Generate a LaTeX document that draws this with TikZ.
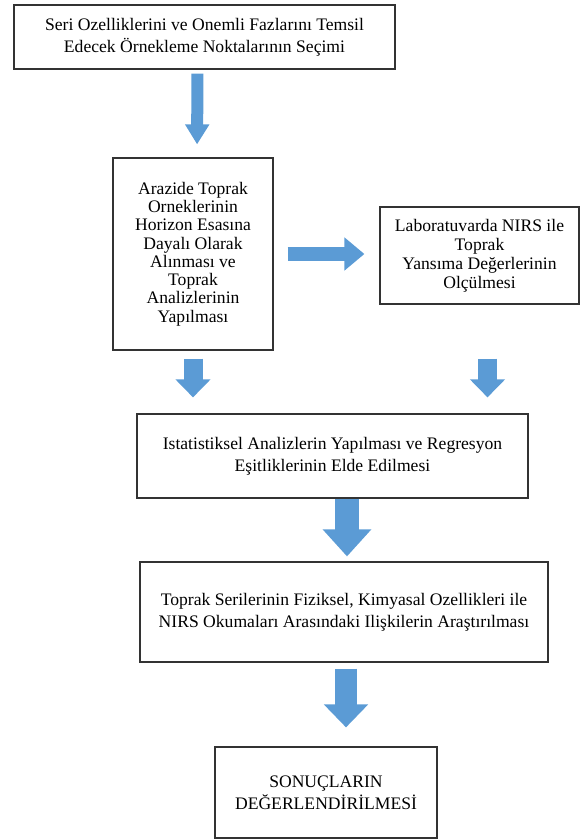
\documentclass[tikz,border=0pt]{standalone}
\usepackage{fontspec}
\setmainfont{Liberation Serif}
\usepackage{tikz}
\usetikzlibrary{arrows.meta,positioning}
\definecolor{okmavi}{HTML}{5B9BD5}
\definecolor{kenar}{HTML}{333333}
\tikzstyle{kutu} = [draw=kenar, line width=1.2pt, rectangle, align=center, inner sep=0pt, font=\fontsize{17.6}{22}\selectfont]
\tikzset{blokok/.style n args={3}{draw=okmavi, line width=#1, -{Triangle[width=#2, length=#3]}}}

\begin{document}
\begin{tikzpicture}[x=1pt, y=-1pt]
	\useasboundingbox (0,0) rectangle (580,840);
	% kutular
	\node [kutu, minimum width=381pt, minimum height=64pt] (secim) at (204.5,37)
		{Seri Ozelliklerini ve Onemli Fazlarını Temsil\\Edecek Örnekleme Noktalarının Seçimi};
	\node [kutu, minimum width=160pt, minimum height=192pt, font=\fontsize{17.6}{18.3}\selectfont] (arazi) at (193,254)
		{Arazide Toprak\\Orneklerinin\\Horizon Esasına\\Dayalı Olarak\\Alınması ve\\Toprak\\Analizlerinin\\Yapılması};
	\node [kutu, minimum width=199pt, minimum height=97pt, font=\fontsize{17.6}{19}\selectfont] (lab) at (479.5,255.5)
		{Laboratuvarda NIRS ile\\Toprak\\Yansıma Değerlerinin\\Olçülmesi};
	\node [kutu, minimum width=391pt, minimum height=84pt] (istat) at (332.5,456)
		{Istatistiksel Analizlerin Yapılması ve Regresyon\\Eşitliklerinin Elde Edilmesi};
	\node [kutu, minimum width=408pt, minimum height=100pt] (iliski) at (344,612)
		{Toprak Serilerinin Fiziksel, Kimyasal Ozellikleri ile\\NIRS Okumaları Arasındaki Ilişkilerin Araştırılması};
	\node [kutu, minimum width=222pt, minimum height=91pt] (sonuc) at (326,792.5)
		{SONUÇLARIN\\DEĞERLENDİRİLMESİ};
	% oklar
	\draw [blokok={12pt}{23pt}{20pt}, shorten <=4pt, shorten >=13pt] ([xshift=-7pt]secim.south) -- ([xshift=4pt]arazi.north);
	\draw [blokok={14pt}{32pt}{20pt}, shorten <=14pt, shorten >=15pt] (arazi.east) -- (arazi.east -| lab.west);
	\draw [blokok={19pt}{34pt}{18pt}, shorten <=8pt, shorten >=16pt] (arazi.south) -- (arazi.south |- istat.north);
	\draw [blokok={19pt}{34pt}{18pt}, shorten <=54pt, shorten >=16pt] ([xshift=8pt]lab.south) -- ([xshift=8pt]lab.south |- istat.north);
	\draw [blokok={24pt}{47pt}{27pt}, shorten >=5pt] ([xshift=3pt]iliski.north |- istat.south) -- ([xshift=3pt]iliski.north);
	\draw [blokok={22pt}{43pt}{23pt}, shorten <=6pt, shorten >=19pt] ([xshift=2pt]iliski.south) -- ([xshift=2pt]iliski.south |- sonuc.north);
\end{tikzpicture}
\end{document}
